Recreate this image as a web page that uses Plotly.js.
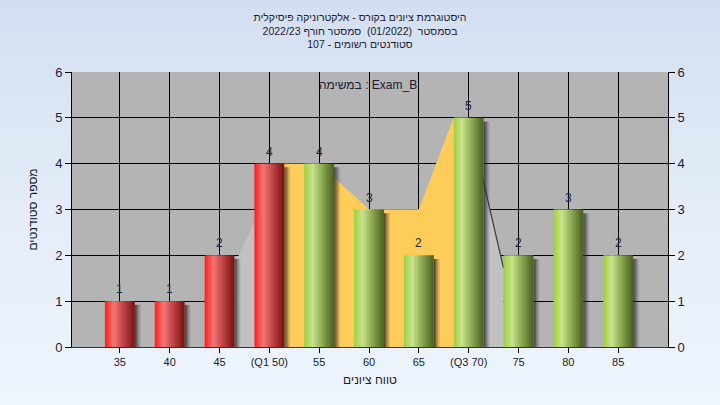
<!DOCTYPE html>
<html><head><meta charset="utf-8">
<script src="https://cdn.plot.ly/plotly-3.0.1.min.js"></script>
<style>
html,body{margin:0;padding:0;width:720px;height:405px;overflow:hidden;background:linear-gradient(180deg,#d3dff0 0%,#e3ecf8 50%,#eef5fd 100%);}
#chart{width:720px;height:405px;}
</style>
</head><body><div id="chart"></div>
<script>
// ---- data ----
const grades = [35, 40, 45, 50, 55, 60, 65, 70, 75, 80, 85];
const tickLabels = ['35', '40', '45', '(Q1 50)', '55', '60', '65', '(Q3 70)', '75', '80', '85'];
const counts = [1, 1, 2, 4, 4, 3, 2, 5, 2, 3, 2];
const q1 = 50, q3 = 70;
// inter-quartile band (yellow)
const iqrX = [50, 55, 60, 65, 68.5, 70];
const iqrY = [4, 4, 3, 3, 5, 5];
// distribution outline (light grey)
const curveX = [46.5, 50, 51.5, 55, 60, 65, 68.5, 70, 73.5];
const curveY = [1.8, 3.4, 4, 4, 3, 3, 5, 5, 1.72];
const edgeX = [70, 73.5];
const edgeY = [5, 1.72];
const titleLines = ['היסטוגרמת ציונים בקורס - אלקטרוניקה פיסיקלית',
                    'בסמסטר  (01/2022)  סמסטר חורף 2022/23',
                    'סטודנטים רשומים - 107'];
const taskLabel = 'במשימה : Exam_B';
const xTitle = 'טווח ציונים';
const yTitle = 'מספר סטודנטים';

// ---- styling helpers ----
function hex(c){return [parseInt(c.slice(1,3),16),parseInt(c.slice(3,5),16),parseInt(c.slice(5,7),16)];}
function interp(stops,t){
  for(let i=0;i<stops.length-1;i++){
    const [t0,c0]=stops[i],[t1,c1]=stops[i+1];
    if(t<=t1){const f=(t-t0)/(t1-t0);const a=hex(c0),b=hex(c1);
      return 'rgb('+a.map((v,k)=>Math.round(v+(b[k]-v)*f)).join(',')+')';}
  }
  return stops[stops.length-1][1];
}
const redStops=[[0,'#ff1c1c'],[0.3,'#f27676'],[0.6,'#c24646'],[1,'#761010']];
const greenStops=[[0,'#9fcd3f'],[0.28,'#c8e48e'],[0.6,'#8daa52'],[1,'#485e1e']];
const FONT='Liberation Sans, Arial, sans-serif';

const traces = [];
// background areas on the base axes (drawn below the overlaid bar subplot)
traces.push({x:curveX,y:curveY,type:'scatter',mode:'lines',fill:'tozeroy',
  fillcolor:'#c1c1c1',line:{width:0,color:'#c1c1c1'},hoverinfo:'skip'});
traces.push({x:edgeX,y:edgeY,type:'scatter',mode:'lines',line:{width:1.2,color:'#3a3a3a'},hoverinfo:'skip'});
traces.push({x:iqrX,y:iqrY,type:'scatter',mode:'lines',fill:'tozeroy',
  fillcolor:'#fecc58',line:{width:0,color:'#fecc58'},hoverinfo:'skip'});

// shadows
const shA=[0.8,0.62,0.42,0.24,0.1];
shA.forEach((a,i)=>{
  traces.push({x:grades,y:counts.map(v=>v-0.08),type:'bar',offset:1.5+i*0.12,width:0.13,
    xaxis:'x2',yaxis:'y2',marker:{color:'rgba(40,40,40,'+a+')',line:{width:0}},hoverinfo:'skip'});
});
// cylindrical bars as vertical stripes
const N=16, barW=3, step=barW/N;
for(let i=0;i<N;i++){
  const off=-barW/2+i*step;
  const w=Math.min(step*1.4, barW/2-off);
  const t=(i+0.5)/N;
  traces.push({x:grades,y:counts,type:'bar',offset:off,width:w,xaxis:'x2',yaxis:'y2',
    marker:{color:grades.map(g=>interp(g<=q1?redStops:greenStops,t)),line:{width:0}},hoverinfo:'skip'});
}

const valueLabels = grades.map((g,i)=>({x:g,y:counts[i],xref:'x2',yref:'y2',text:String(counts[i]),
  showarrow:false,yshift:12,font:{family:FONT,size:12,color:'#1c2440'}}));

const tickFont={family:FONT,size:13,color:'#1b1b33'};
const layout={
  width:720,height:405,
  paper_bgcolor:'rgba(0,0,0,0)',plot_bgcolor:'#b4b4b4',
  margin:{l:72,r:52,t:72,b:58},
  showlegend:false,barmode:'overlay',
  title:{text:titleLines.join('<br>'),x:0.5,xanchor:'center',y:1-21/405,yanchor:'middle',
    font:{family:FONT,size:10.5,color:'#1b1b33'}},
  xaxis:{range:[30.2,90],tickvals:grades,ticktext:tickLabels,showgrid:true,gridcolor:'#000',gridwidth:1,
    zeroline:false,showline:true,linecolor:'#333',linewidth:1,ticks:'outside',ticklen:5,tickcolor:'#000',
    tickfont:{family:FONT,size:11,color:'#1b1b33'},
    title:{text:xTitle,standoff:8,font:{family:FONT,size:12,color:'#1b1b33'}}},
  xaxis2:{range:[30.2,90],overlaying:'x',visible:false},
  yaxis:{range:[0,6],dtick:1,showgrid:true,gridcolor:'#000',gridwidth:1,zeroline:false,
    showline:true,linecolor:'#000',linewidth:1,ticks:'outside',ticklen:6,tickcolor:'#000',tickfont:tickFont,
    title:{text:yTitle,standoff:14,font:{family:FONT,size:12,color:'#1b1b33'}}},
  yaxis2:{range:[0,6],dtick:1,overlaying:'y',side:'right',showgrid:false,zeroline:false,
    showline:true,linecolor:'#000',linewidth:1,ticks:'outside',ticklen:6,tickcolor:'#000',tickfont:tickFont},
  annotations:[{text:taskLabel,xref:'paper',yref:'paper',x:0.497,y:0.985,showarrow:false,
    font:{family:FONT,size:12,color:'#1b1b33'}}].concat(valueLabels)
};
Plotly.newPlot('chart',traces,layout,{staticPlot:true,displayModeBar:false});
</script>
</body></html>
